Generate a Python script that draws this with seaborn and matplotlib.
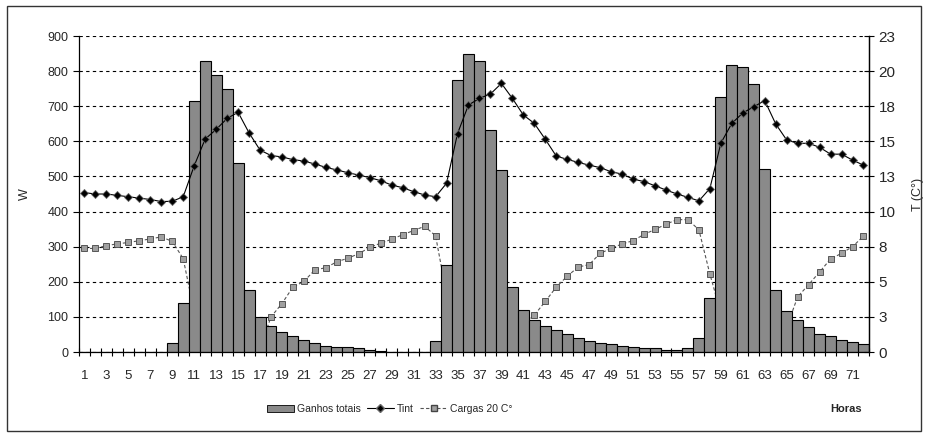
import numpy as np
import pandas as pd
import matplotlib
matplotlib.use("Agg")
import matplotlib.pyplot as plt
from matplotlib.ticker import FixedLocator, FuncFormatter
from matplotlib.lines import Line2D
from matplotlib.patches import Patch, Rectangle
import seaborn as sns

hours = list(range(1, 73))
ganhos = [0, 0, 0, 0, 0, 0, 0, 0, 25, 140,
          714, 828, 790, 750, 538, 178, 100, 75, 58, 47,
          35, 26, 18, 14, 14, 10, 5, 4, 0, 0,
          0, 0, 31, 247, 776, 849, 829, 633, 517, 186,
          119, 92, 75, 64, 50, 41, 30, 27, 23, 18,
          15, 11, 10, 5, 5, 11, 40, 155, 727, 818,
          811, 763, 521, 176, 116, 90, 70, 52, 46, 33,
          29, 22]
tint = [11.6, 11.5, 11.5, 11.4, 11.3, 11.2, 11.1, 10.95, 10.97, 11.3,
        13.55, 15.5, 16.2, 17.0, 17.45, 15.95, 14.7, 14.3, 14.2, 14.0,
        13.9, 13.68, 13.44, 13.25, 13.05, 12.88, 12.69, 12.47, 12.15, 11.96,
        11.67, 11.43, 11.3, 12.28, 15.9, 17.98, 18.46, 18.78, 19.55, 18.46,
        17.25, 16.64, 15.48, 14.26, 14.02, 13.8, 13.6, 13.42, 13.12, 12.95,
        12.59, 12.4, 12.1, 11.79, 11.5, 11.26, 11.0, 11.9, 15.2, 16.64,
        17.4, 17.85, 18.3, 16.6, 15.43, 15.19, 15.19, 14.9, 14.4, 14.4,
        13.97, 13.6]
cargas = [295, 295, 303, 308, 312, 317, 322, 328, 315, 266,
          114, 0, 0, 0, 0, 0, 10, 100, 138, 185,
          201, 234, 240, 257, 267, 280, 298, 310, 321, 334,
          346, 358, 331, 164, 0, 0, 0, 0, 0, 0,
          78, 105, 144, 185, 216, 242, 249, 281, 295, 308,
          317, 335, 349, 364, 377, 377, 348, 222, 111, 0,
          0, 0, 0, 0, 71, 157, 192, 228, 265, 281,
          300, 330]
w_ticks = list(range(0, 1000, 100))
t_max = 23

df = pd.DataFrame({"hora": hours, "ganhos": ganhos, "tint": tint, "cargas": cargas})
df["pos"] = np.arange(len(df))

sns.set_style("white")
plt.rcParams["font.family"] = ["Liberation Sans", "DejaVu Sans"]

fig = plt.figure(figsize=(9.28, 4.37), dpi=100)
ax = fig.add_axes([0.0851, 0.1945, 0.8513, 0.7231])
ax.set_axisbelow(True)

# Cargas line (behind bars)
sns.lineplot(data=df, x="pos", y="cargas", ax=ax, color="#555555", lw=0.8,
             linestyle=(0, (3, 2)), marker="s", markersize=4.5,
             markerfacecolor="#a0a0a0", markeredgecolor="#444444",
             markeredgewidth=0.6, zorder=1, legend=False)

sns.barplot(data=df, x="pos", y="ganhos", ax=ax, color="#8a8a8a",
            edgecolor="black", linewidth=0.8, width=1.0, saturation=1,
            zorder=2, native_scale=True)

ax.set_xlim(-0.5, len(df) - 0.5)
ax.set_ylim(0, 900)
ax.yaxis.set_major_locator(FixedLocator(w_ticks))
ax.grid(axis="y", color="black", linestyle=(0, (3, 3)), linewidth=0.8)
ax.grid(axis="x", visible=False)

ax.xaxis.set_major_locator(FixedLocator(df["pos"].values[::2]))
ax.xaxis.set_major_formatter(FuncFormatter(lambda v, p: str(int(round(v)) + 1)))
ax.xaxis.set_minor_locator(FixedLocator(np.arange(-0.5, len(df), 1.0)))
ax.tick_params(axis="x", which="major", bottom=True, length=0, labelsize=9.5, pad=13)
ax.tick_params(axis="x", which="minor", bottom=True, length=6, direction="inout",
               width=0.8, color="black")
ax.tick_params(axis="y", which="major", length=4, direction="out", width=0.8,
               labelsize=9, color="black", left=True)
ax.set_xlabel("")
ax.set_ylabel("W", fontsize=9, labelpad=12)

ax.spines["top"].set_visible(False)
for s in ["left", "bottom", "right"]:
    ax.spines[s].set_visible(True)
    ax.spines[s].set_color("black")
    ax.spines[s].set_linewidth(0.9)
    ax.spines[s].set_zorder(3)

ax2 = ax.twinx()
sns.lineplot(data=df, x="pos", y="tint", ax=ax2, color="black", lw=0.8,
             marker="D", markersize=4.5, markerfacecolor="black",
             markeredgecolor="#666666", markeredgewidth=0.6, legend=False)
ax2.set_ylim(0, t_max)
ax2.yaxis.set_major_locator(FixedLocator(np.linspace(0, t_max, 10)))
ax2.yaxis.set_major_formatter(FuncFormatter(lambda v, p: f"{v:.0f}"))
ax2.tick_params(axis="y", length=7, direction="inout", width=0.8, labelsize=11,
                color="black", right=True)
ax2.set_ylabel("T (C°)", fontsize=9, labelpad=12)
ax2.spines["top"].set_visible(False)
ax2.spines["left"].set_visible(False)
ax2.spines["bottom"].set_visible(False)
ax2.spines["right"].set_color("black")
ax2.spines["right"].set_linewidth(0.9)
ax2.grid(False)
ax2.set_xlabel("")

handles = [
    Patch(facecolor="#8a8a8a", edgecolor="black", linewidth=0.6),
    Line2D([], [], color="black", lw=0.8, marker="D", markersize=4,
           markerfacecolor="black", markeredgecolor="#666666"),
    Line2D([], [], color="#555555", lw=0.8, linestyle=(0, (3, 2)), marker="s",
           markersize=4, markerfacecolor="#a0a0a0", markeredgecolor="#444444"),
]
fig.legend(handles, ["Ganhos totais", "Tint", "Cargas 20 C°"], loc="center",
           bbox_to_anchor=(0.42, 0.064), ncol=3, frameon=False, fontsize=7.5,
           handlelength=2.6, handletextpad=0.3, columnspacing=0.6)
fig.text(0.912, 0.064, "Horas", fontsize=8, fontweight="bold", ha="center", va="center")

fig.patches.append(Rectangle((0.008, 0.014), 0.984, 0.972, transform=fig.transFigure,
                             fill=False, edgecolor="#333333", linewidth=1.0))

fig.savefig("out.png", dpi=100)
